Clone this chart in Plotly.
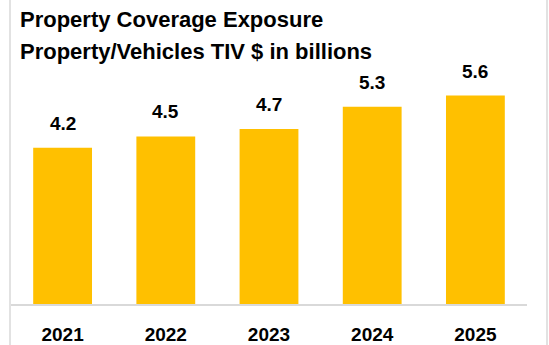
import plotly.graph_objects as go

# Total insured value (TIV) of property/vehicles, $ billions
years = ["2021", "2022", "2023", "2024", "2025"]
tiv_billions = [4.2, 4.5, 4.7, 5.3, 5.6]
title_lines = ["Property Coverage Exposure", "Property/Vehicles TIV $ in billions"]

W, H = 549, 345
M_L, M_R, M_T, M_B = 11, 22, 62, 41
plot_w = W - M_L - M_R
plot_h = H - M_T - M_B

FONT = "Liberation Sans, Arial, sans-serif"
BAR = "#FFC000"
GRID = "#D9D9D9"

fig = go.Figure(
    go.Bar(
        x=years,
        y=tiv_billions,
        marker=dict(color=BAR, line=dict(width=0)),
        hoverinfo="x+y",
    )
)

# value labels above each bar (category index positions)
for i, v in enumerate(tiv_billions):
    fig.add_annotation(
        x=i, y=v, xref="x", yref="y",
        text=f"<b>{v:.1f}</b>",
        showarrow=False, yanchor="bottom", yshift=12,
        font=dict(family=FONT, size=19, color="#000000"),
    )

# two-line title, left aligned
def px_to_paper_x(px):
    return (px - M_L) / plot_w

def px_to_paper_y(py):
    return (H - M_B - py) / plot_h

for line, py in zip(title_lines, [20, 51]):
    fig.add_annotation(
        x=px_to_paper_x(18), y=px_to_paper_y(py), xref="paper", yref="paper",
        text=f"<b>{line}</b>", showarrow=False,
        xanchor="left", yanchor="middle",
        font=dict(family=FONT, size=22, color="#000000"),
    )

# chart-area frame (left and right edges)
for px in (10, 547):
    fig.add_shape(
        type="line", xref="paper", yref="paper",
        x0=px_to_paper_x(px), x1=px_to_paper_x(px), y0=-1, y1=2,
        line=dict(color=GRID, width=1.5),
    )

fig.update_layout(
    width=W, height=H,
    margin=dict(l=M_L, r=M_R, t=M_T, b=M_B, pad=0, autoexpand=False),
    paper_bgcolor="#FFFFFF", plot_bgcolor="#FFFFFF",
    bargap=0.43,
    showlegend=False,
    font=dict(family=FONT, color="#000000"),
)
fig.update_xaxes(
    type="category", automargin=False,
    categoryorder="array", categoryarray=years,
    range=[-0.5, len(years) - 0.5], autorange=False,
    showline=True, linecolor=GRID, linewidth=1.5,
    showgrid=False, ticks="", ticklabelstandoff=12,
    tickfont=dict(family=FONT, size=19, color="#000000", weight="bold"),
)
fig.update_yaxes(
    range=[0, 6.5], autorange=False, visible=False, showgrid=False,
    zeroline=False, automargin=False,
)

fig.write_html("out.html")
